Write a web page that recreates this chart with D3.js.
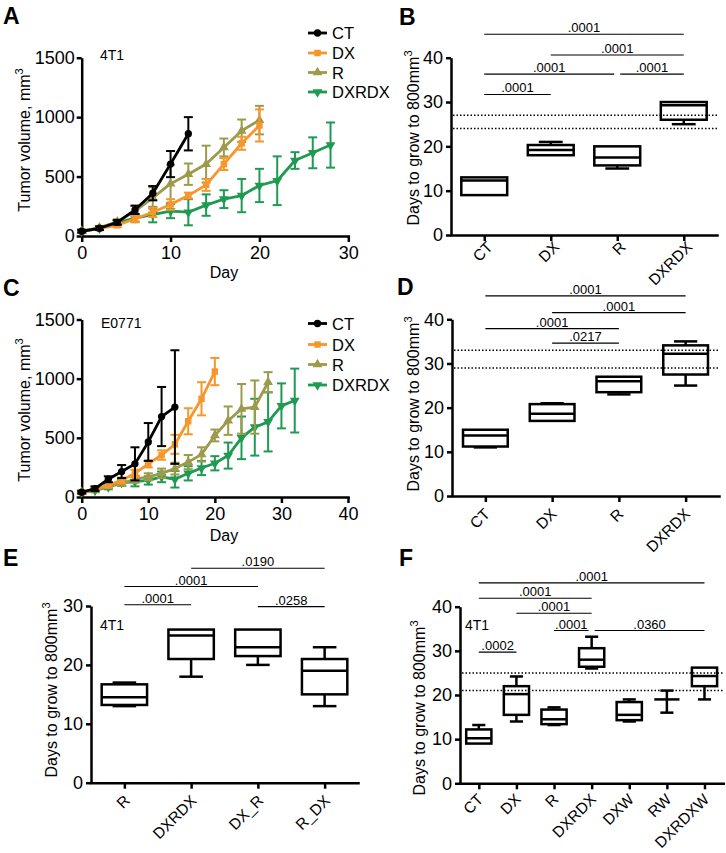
<!DOCTYPE html>
<html><head><meta charset="utf-8">
<script src="https://cdn.jsdelivr.net/npm/d3@7"></script>
<style>body{margin:0;background:#fff}</style>
</head><body><svg id="c" width="726" height="853"></svg>
<script>
// ---------------- DATA ----------------
const seriesNames = ["CT","DX","R","DXRDX"];
const seriesColors = ["#000000","#F7962B","#9C9A4B","#1F9A52"];
const seriesSymbols = ["circle","square","triangle","triangleDown"];

// Panel A (4T1) days
const dA_CT = [0,2,4,6,8,10,12];
const dA_DX = [0,2,4,6,8,10,12,14,16,18,20];
const dA_R  = [0,2,4,6,8,10,12,14,16,18,20];
const dA_DXRDX = [0,2,4,6,8,10,12,14,16,18,20,22,24,26,28];
const A_CT = [40,65,115,220,360,605,860];
const A_CT_sem = [10,15,20,35,60,110,140];
const A_DX = [40,65,90,145,200,265,340,430,605,780,930];
const A_DX_sem = [10,15,15,30,40,45,25,50,50,55,135];
const A_R = [40,70,120,210,320,440,520,605,745,885,975];
const A_R_sem = [10,15,20,45,90,160,90,155,75,95,120];
const A_DXRDX = [40,65,110,150,180,210,200,260,310,340,425,465,635,700,765];
const A_DXRDX_sem = [10,10,15,30,65,60,110,90,75,140,140,205,70,130,190];

// Panel C (E0771)
const dC_CT = [0,2,4,6,8,10,12,14];
const dC_DX = [0,2,4,6,8,10,12,14,16,18,20];
const dC_R  = [0,2,4,6,8,10,12,14,16,18,20,22,24,26,28];
const dC_DXRDX = [0,2,4,6,8,10,12,14,16,18,20,22,24,26,28,30,32];
const C_CT = [40,70,150,215,280,465,680,760];
const C_CT_sem = [10,20,25,55,140,160,250,480];
const C_DX = [40,65,100,140,200,280,355,445,640,830,1060];
const C_DX_sem = [10,15,20,25,30,30,40,80,110,140,115];
const C_R = [40,60,90,115,150,170,200,240,295,360,520,645,745,760,970];
const C_R_sem = [10,10,15,20,30,30,40,50,60,60,50,120,210,225,85];
const C_DXRDX = [40,55,85,120,130,140,170,150,200,245,285,350,500,590,635,770,815];
const C_DXRDX_sem = [10,15,20,25,40,35,45,70,60,60,60,110,180,240,250,190,270];

// Box panels: [min, q1, median, q3, max]
const catsB = ["CT","DX","R","DXRDX"];
const boxB = [[9,9,12.3,13,13],[18,18,19.2,20.3,21],[15,15.7,17.5,20,20],[25,26,29.3,30,30]];
const dottedB = [27,24];
const sigB_from = ["CT","DX","CT","R","CT"];
const sigB_to   = ["DXRDX","DXRDX","R","DXRDX","DX"];
const sigB_y    = [45.3,40.6,36.3,36.3,31.7];
const sigB_p    = [".0001",".0001",".0001",".0001",".0001"];

const catsD = ["CT","DX","R","DXRDX"];
const boxD = [[11,11.2,13.7,15,15],[17,17,18.6,20.8,21],[23,23.5,26,27,27],[25,27.5,32.2,34.1,35]];
const dottedD = [33,29];
const sigD_from = ["CT","DX","CT","DX"];
const sigD_to   = ["DXRDX","DXRDX","R","R"];
const sigD_y    = [45.3,41.5,37.9,34.6];
const sigD_p    = [".0001",".0001",".0001",".0217"];

const catsE = ["R","DXRDX","DX_R","R_DX"];
const boxE = [[13,13.2,14.5,16.7,17],[18,21,25,26,26],[20,21.5,23,26,26],[13,15,19,21,23]];
const dottedE = [];
const sigE_from = ["R","R","DXRDX","DX_R"];
const sigE_to   = ["DXRDX","DX_R","R_DX","R_DX"];
const sigE_y    = [30.2,33.3,36.4,29.9];
const sigE_p    = [".0001",".0001",".0190",".0258"];

const catsF = ["CT","DX","R","DXRDX","DXW","RW","DXRDXW"];
const boxF = [[9,9,10.2,12.2,13.2],[14,15.5,20.2,22,24.2],[13.2,13.4,14.5,16.7,17.2],[26,26.4,28,30.6,33.2],[14,14.3,15.5,18.4,19],[16,19,19,19,21],[19,22,24.3,26.2,26.2]];
const dottedF = [25,21];
const sigF_from = ["CT","CT","DX","R","DXRDX","CT"];
const sigF_to   = ["DXRDXW","DXRDX","DXRDX","DXRDX","DXRDXW","DX"];
const sigF_y    = [45.4,41.9,38.5,34.6,34.6,29.7];
const sigF_p    = [".0001",".0001",".0001",".0001",".0360",".0002"];

const lineYTicks = [0,500,1000,1500];
const xTicksA = [0,10,20,30];
const xTicksC = [0,10,20,30,40];
const boxTicks40 = [0,10,20,30,40];
const boxTicks30 = [0,10,20,30];

// ---------------- DRAW ----------------
const FONT = "'Liberation Sans', Arial, Helvetica, sans-serif";
const svg = d3.select('#c').attr('font-family', FONT);
const fmt = d3.format('d');

function styleAxis(g, fs){
  g.selectAll('path.domain').attr('stroke','#000').attr('stroke-width',2.5).attr('stroke-linecap','square');
  g.selectAll('.tick line').attr('stroke','#000').attr('stroke-width',2.5);
  g.selectAll('.tick text').attr('font-size',fs).attr('fill','#000').attr('font-family',FONT);
}
function symPath(type, size){
  const t = {circle:d3.symbolCircle, square:d3.symbolSquare, triangle:d3.symbolTriangle, triangleDown:d3.symbolTriangle}[type];
  return d3.symbol().type(t).size(size)();
}
function yTitle(x, y, txt){
  const t = svg.append('text').attr('transform',`translate(${x},${y}) rotate(-90)`)
    .attr('text-anchor','middle').attr('font-size',16).attr('fill','#000');
  t.append('tspan').text(txt);
  t.append('tspan').attr('dy',-7).attr('font-size',11).text('3');
}
function panelLetter(x, y, s){
  svg.append('text').attr('x',x).attr('y',y).attr('font-size',23).attr('font-weight','bold').attr('fill','#000').text(s);
}

function linePanel(L){
  const g = svg.append('g');
  const x = d3.scaleLinear().domain([0,L.xMax]).range([L.x0,L.x1]);
  const y = d3.scaleLinear().domain([0,1500]).range([L.y0,L.y1]);
  const ax = g.append('g').attr('transform',`translate(0,${L.y0})`)
    .call(d3.axisBottom(x).tickValues(L.xTicks).tickFormat(fmt).tickSize(6).tickPadding(4).tickSizeOuter(0));
  styleAxis(ax, 18);
  const ay = g.append('g').attr('transform',`translate(${L.x0},0)`)
    .call(d3.axisLeft(y).tickValues(lineYTicks).tickFormat(fmt).tickSize(5).tickPadding(2).tickSizeOuter(0));
  styleAxis(ay, 18);
  ay.select('path.domain').attr('stroke-linecap','butt');
  for (let k = L.series.length-1; k >= 0; k--){
    const s = L.series[k];
    const pts = s.days.map((d,i)=>({d, v:s.vals[i], e:s.sem[i]}));
    const col = seriesColors[k];
    const sg = g.append('g');
    pts.forEach(p=>{
      sg.append('line').attr('x1',x(p.d)).attr('x2',x(p.d)).attr('y1',y(p.v-p.e)).attr('y2',y(p.v+p.e))
        .attr('stroke',col).attr('stroke-width',2);
      [p.v-p.e, p.v+p.e].forEach(v=>{
        sg.append('line').attr('x1',x(p.d)-4.5).attr('x2',x(p.d)+4.5).attr('y1',y(v)).attr('y2',y(v))
          .attr('stroke',col).attr('stroke-width',2);
      });
    });
    sg.append('path').datum(pts).attr('fill','none').attr('stroke',col).attr('stroke-width',2.8)
      .attr('stroke-linejoin','round')
      .attr('d', d3.line().x(p=>x(p.d)).y(p=>y(p.v)));
    sg.selectAll('path.m').data(pts).enter().append('path').attr('class','m')
      .attr('d', symPath(seriesSymbols[k], 42))
      .attr('transform', p=>`translate(${x(p.d)},${y(p.v)})${seriesSymbols[k]==='triangleDown'?' rotate(180)':''}`)
      .attr('fill',col);
  }
  L.series.forEach((s,k)=>{
    const ly = L.legY[k];
    const col = seriesColors[k];
    g.append('line').attr('x1',308).attr('x2',327).attr('y1',ly).attr('y2',ly).attr('stroke',col).attr('stroke-width',2.8);
    g.append('path').attr('d',symPath(seriesSymbols[k],42))
      .attr('transform',`translate(317.5,${ly})${seriesSymbols[k]==='triangleDown'?' rotate(180)':''}`).attr('fill',col);
    g.append('text').attr('x',332).attr('y',ly+6).attr('font-size',16.5).attr('fill','#000').text(s.name);
  });
  g.append('text').attr('x',L.tagX).attr('y',L.tagY).attr('font-size',14).attr('fill','#000').text(L.tag);
  g.append('text').attr('x',224).attr('y',L.dayY).attr('text-anchor','middle').attr('font-size',16).attr('fill','#000').text('Day');
}

function boxPanel(P){
  const g = svg.append('g');
  const x = d3.scalePoint().domain(P.cats).range([P.x0,P.x1]).padding(0.5);
  const y = d3.scaleLinear().domain([0,P.yMax]).range([P.y0,P.y1]);
  const bw = x.step()*P.bwFrac;
  const cw = bw*0.52;
  P.dotted.forEach(v=>{
    g.append('line').attr('x1',P.x0+2).attr('x2',P.x1).attr('y1',y(v)).attr('y2',y(v))
      .attr('stroke','#000').attr('stroke-width',1.5).attr('stroke-dasharray','1.5,2');
  });
  const ax = g.append('g').attr('transform',`translate(0,${P.y0})`)
    .call(d3.axisBottom(x).tickSize(6).tickSizeOuter(0));
  styleAxis(ax, 15.5);
  ax.selectAll('.tick text').attr('x',0).attr('y',0).attr('dy',0)
    .attr('text-anchor','end').attr('transform',`translate(${P.lblDx},${P.lblDy}) rotate(-45)`);
  const ay = g.append('g').attr('transform',`translate(${P.x0},0)`)
    .call(d3.axisLeft(y).tickValues(P.ticks).tickFormat(fmt).tickSize(5).tickPadding(3).tickSizeOuter(0));
  styleAxis(ay, 18);
  ay.select('path.domain').attr('stroke-linecap','butt');
  P.cats.forEach((c,i)=>{
    const [mn,q1,md,q3,mx] = P.boxes[i];
    const cx = x(c);
    const ln = (x1,y1,x2,y2)=>g.append('line').attr('x1',x1).attr('y1',y1).attr('x2',x2).attr('y2',y2)
      .attr('stroke','#000').attr('stroke-width',2.5);
    if (mx > q3){ ln(cx,y(q3),cx,y(mx)); ln(cx-cw/2,y(mx),cx+cw/2,y(mx)); }
    if (mn < q1){ ln(cx,y(q1),cx,y(mn)); ln(cx-cw/2,y(mn),cx+cw/2,y(mn)); }
    if (q3 > q1){
      g.append('rect').attr('x',cx-bw/2).attr('y',y(q3)).attr('width',bw).attr('height',y(q1)-y(q3))
        .attr('fill','none').attr('stroke','#000').attr('stroke-width',2.5);
    }
    ln(cx-bw/2,y(md),cx+bw/2,y(md));
  });
  P.sigFrom.forEach((a,i)=>{
    const b = P.sigTo[i], yv = P.sigY[i];
    let xa = x(a), xb = x(b);
    P.sigFrom.forEach((a2,j)=>{ if (j!==i && P.sigY[j]===yv && a2===b) xb -= 3; });
    P.sigTo.forEach((b2,j)=>{ if (j!==i && P.sigY[j]===yv && b2===a) xa += 3; });
    g.append('line').attr('x1',xa).attr('x2',xb).attr('y1',y(yv)).attr('y2',y(yv))
      .attr('stroke','#000').attr('stroke-width',1.1);
    g.append('text').attr('x',(xa+xb)/2).attr('y',y(yv)-2).attr('text-anchor','middle')
      .attr('font-size',13).attr('fill','#000').text(P.sigP[i]);
  });
  if (P.tag) g.append('text').attr('x',P.tagX).attr('y',P.tagY).attr('font-size',14).attr('fill','#000').text(P.tag);
}

linePanel({xMax:30, x0:81.7, x1:348.3, y0:236, y1:57.7, xTicks:xTicksA,
  series:[{name:"CT",days:dA_CT,vals:A_CT,sem:A_CT_sem},{name:"DX",days:dA_DX,vals:A_DX,sem:A_DX_sem},
          {name:"R",days:dA_R,vals:A_R,sem:A_R_sem},{name:"DXRDX",days:dA_DXRDX,vals:A_DXRDX,sem:A_DXRDX_sem}],
  legY:[33,53,72.5,92], tag:"4T1", tagX:100, tagY:60, dayY:278});
linePanel({xMax:40, x0:81.7, x1:348, y0:497, y1:319.5, xTicks:xTicksC,
  series:[{name:"CT",days:dC_CT,vals:C_CT,sem:C_CT_sem},{name:"DX",days:dC_DX,vals:C_DX,sem:C_DX_sem},
          {name:"R",days:dC_R,vals:C_R,sem:C_R_sem},{name:"DXRDX",days:dC_DXRDX,vals:C_DXRDX,sem:C_DXRDX_sem}],
  legY:[323.5,344.5,364.5,385], tag:"E0771", tagX:101, tagY:328, dayY:541});

boxPanel({cats:catsB, boxes:boxB, dotted:dottedB, sigFrom:sigB_from, sigTo:sigB_to, sigY:sigB_y, sigP:sigB_p,
  x0:451, x1:717, y0:235, y1:57.7, yMax:40, ticks:boxTicks40, bwFrac:0.69, lblDx:9, lblDy:13});
boxPanel({cats:catsD, boxes:boxD, dotted:dottedD, sigFrom:sigD_from, sigTo:sigD_to, sigY:sigD_y, sigP:sigD_p,
  x0:452, x1:719, y0:496, y1:319.3, yMax:40, ticks:boxTicks40, bwFrac:0.67, lblDx:5, lblDy:19});
boxPanel({cats:catsE, boxes:boxE, dotted:dottedE, sigFrom:sigE_from, sigTo:sigE_to, sigY:sigE_y, sigP:sigE_p,
  x0:91, x1:358, y0:782.7, y1:606, yMax:30, ticks:boxTicks30, bwFrac:0.68, lblDx:6, lblDy:19,
  tag:"4T1", tagX:100, tagY:630});
boxPanel({cats:catsF, boxes:boxF, dotted:dottedF, sigFrom:sigF_from, sigTo:sigF_to, sigY:sigF_y, sigP:sigF_p,
  x0:460, x1:723.3, y0:783.3, y1:606.7, yMax:40, ticks:boxTicks40, bwFrac:0.67, lblDx:5, lblDy:17,
  tag:"4T1", tagX:465, tagY:630});

yTitle(30, 140, "Tumor volume, mm");
yTitle(30, 410, "Tumor volume, mm");
yTitle(419, 138, "Days to grow to 800mm");
yTitle(419, 404, "Days to grow to 800mm");
yTitle(57, 690, "Days to grow to 800mm");
yTitle(425, 708, "Days to grow to 800mm");

panelLetter(3, 24, "A");
panelLetter(399, 25, "B");
panelLetter(3, 296, "C");
panelLetter(397, 295, "D");
panelLetter(3, 566, "E");
panelLetter(399, 566, "F");
</script></body></html>
